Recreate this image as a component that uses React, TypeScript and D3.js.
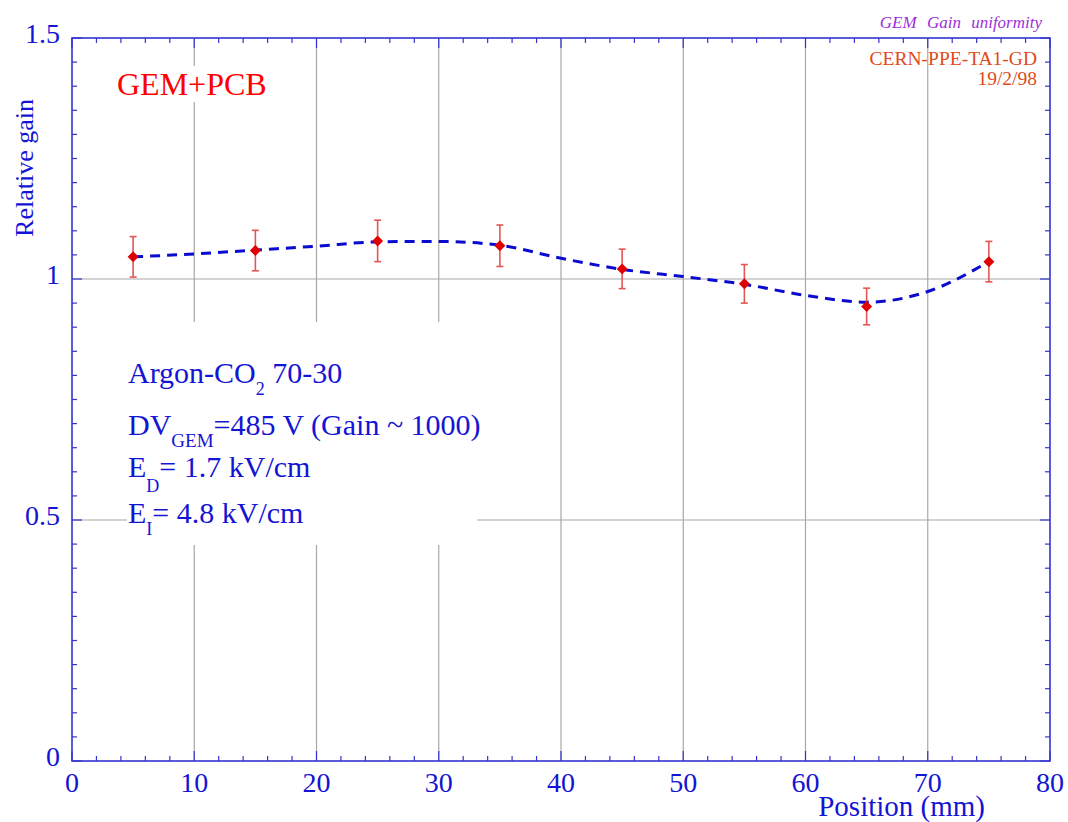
import React from "react";
import * as d3 from "d3";

// Measured relative gain along the detector
const positions = [5, 15, 25, 35, 45, 55, 65, 75];
const gains = [1.046, 1.059, 1.079, 1.069, 1.021, 0.99, 0.943, 1.036];
const gainErrors = [0.042, 0.042, 0.043, 0.043, 0.041, 0.04, 0.038, 0.042];

// Smoothed trend through the measurements
const trendX = [5, 10, 15, 20, 25, 30, 35, 40, 45, 50, 55, 60, 65, 70, 75];
const trendY = [1.046, 1.052, 1.06, 1.068, 1.077, 1.078, 1.07, 1.043, 1.02, 1.005, 0.989, 0.966, 0.952, 0.974, 1.036];

const xTicks = [0, 10, 20, 30, 40, 50, 60, 70, 80];
const yTicks = [0, 0.5, 1, 1.5];
const xGrid = [10, 20, 30, 40, 50, 60, 70];
const yGrid = [0.5, 1];

const W = 1068;
const H = 822;
const left = 72;
const right = 1050;
const top = 38;
const bottom = 761;

const FONT = "'Liberation Serif', 'Times New Roman', serif";
const AXIS = "#3434d2";
const TEXT_BLUE = "#1414d4";
const GRID = "#a8a8a8";

export default function App() {
  const x = d3.scaleLinear().domain([0, 80]).range([left, right]);
  const y = d3.scaleLinear().domain([0, 1.5]).range([bottom, top]);

  const trendPts: [number, number][] = trendX.map((v, i) => [v, trendY[i]]);
  const trendPath = d3
    .line<[number, number]>()
    .x((d) => x(d[0]))
    .y((d) => y(d[1]))
    .curve(d3.curveMonotoneX)(trendPts) as string;

  const diamond = d3.symbol().type(d3.symbolSquare).size(60)() as string;

  const xMinor = d3.range(0, 80.001, 2);
  const yMinor = d3.range(0, 1.5001, 0.05);

  return (
    <svg
      width={W}
      height={H}
      style={{ position: "absolute", left: 0, top: 0, background: "#fff" }}
      fontFamily={FONT}
    >
      <rect x={0} y={0} width={W} height={H} fill="#fff" />

      {/* grid */}
      {xGrid.map((v) => (
        <line key={"gx" + v} x1={x(v)} x2={x(v)} y1={top} y2={bottom} stroke={GRID} strokeWidth={1.2} />
      ))}
      {yGrid.map((v) => (
        <line key={"gy" + v} x1={left} x2={right} y1={y(v)} y2={y(v)} stroke={GRID} strokeWidth={1.2} />
      ))}

      {/* label backgrounds */}
      <rect x={112} y={66} width={160} height={36} fill="#fff" />
      <rect x={127} y={322} width={350} height={223} fill="#fff" />

      {/* ticks */}
      {xMinor.map((v, i) => {
        const len = Math.abs(v % 10) < 1e-6 ? 10 : 5;
        return (
          <g key={"tx" + i}>
            <line x1={x(v)} x2={x(v)} y1={bottom} y2={bottom - len} stroke={AXIS} strokeWidth={1.2} />
            <line x1={x(v)} x2={x(v)} y1={top} y2={top + len} stroke={AXIS} strokeWidth={1.2} />
          </g>
        );
      })}
      {yMinor.map((v, i) => {
        const major = Math.abs(v * 2 - Math.round(v * 2)) < 1e-6;
        const len = major ? 10 : 5;
        return (
          <g key={"ty" + i}>
            <line x1={left} x2={left + len} y1={y(v)} y2={y(v)} stroke={AXIS} strokeWidth={1.2} />
            <line x1={right} x2={right - len} y1={y(v)} y2={y(v)} stroke={AXIS} strokeWidth={1.2} />
          </g>
        );
      })}

      {/* frame */}
      <rect x={left} y={top} width={right - left} height={bottom - top} fill="none" stroke={AXIS} strokeWidth={1.6} />

      {/* tick labels */}
      {xTicks.map((v) => (
        <text key={"lx" + v} x={x(v)} y={bottom + 31} textAnchor="middle" fontSize={28} fill={TEXT_BLUE}>
          {v}
        </text>
      ))}
      {yTicks.map((v) => (
        <text key={"ly" + v} x={60} y={y(v) + 5} textAnchor="end" fontSize={28} fill={TEXT_BLUE}>
          {String(v)}
        </text>
      ))}

      {/* axis titles */}
      <text x={985} y={816} textAnchor="end" fontSize={29} fill={TEXT_BLUE}>
        Position (mm)
      </text>
      <text transform="translate(33,99) rotate(-90)" textAnchor="end" fontSize={26} fill={TEXT_BLUE}>
        Relative gain
      </text>

      {/* trend */}
      <path d={trendPath} fill="none" stroke="#0a0ad0" strokeWidth={3} strokeDasharray="10 7" />

      {/* error bars */}
      {positions.map((p, i) => {
        const cx = x(p);
        const y1 = y(gains[i] + gainErrors[i]);
        const y2 = y(gains[i] - gainErrors[i]);
        return (
          <g key={"e" + i} stroke="#e45555" strokeWidth={1.6}>
            <line x1={cx} x2={cx} y1={y1} y2={y2} />
            <line x1={cx - 3.5} x2={cx + 3.5} y1={y1} y2={y1} />
            <line x1={cx - 3.5} x2={cx + 3.5} y1={y2} y2={y2} />
          </g>
        );
      })}
      {positions.map((p, i) => (
        <path key={"m" + i} d={diamond} transform={`translate(${x(p)},${y(gains[i])}) rotate(45)`} fill="#e00000" />
      ))}

      {/* annotations */}
      <text x={117} y={95} fontSize={32} fill="#ff0000">
        GEM+PCB
      </text>
      <text x={1042} y={28} textAnchor="end" fontSize={17} fontStyle="italic" fill="#9b30d9" wordSpacing={6}>
        GEM Gain uniformity
      </text>
      <text x={1037} y={65} textAnchor="end" fontSize={19.5} fill="#e04a1a">
        CERN-PPE-TA1-GD
      </text>
      <text x={1037} y={85} textAnchor="end" fontSize={19.5} fill="#e04a1a">
        19/2/98
      </text>

      <g fontSize={30} fill={TEXT_BLUE}>
        <text x={128} y={383}>
          Argon-CO
          <tspan fontSize={18} dy={12}>2</tspan>
          <tspan dy={-12}> 70-30</tspan>
        </text>
        <text x={128} y={435}>
          DV
          <tspan fontSize={19} dy={12}>GEM</tspan>
          <tspan dy={-12}>=485 V (Gain ~ 1000)</tspan>
        </text>
        <text x={128} y={477}>
          E
          <tspan fontSize={18} dy={15}>D</tspan>
          <tspan dy={-15}>= 1.7 kV/cm</tspan>
        </text>
        <text x={128} y={523}>
          E
          <tspan fontSize={18} dy={12}>I</tspan>
          <tspan dy={-12}>= 4.8 kV/cm</tspan>
        </text>
      </g>
    </svg>
  );
}
